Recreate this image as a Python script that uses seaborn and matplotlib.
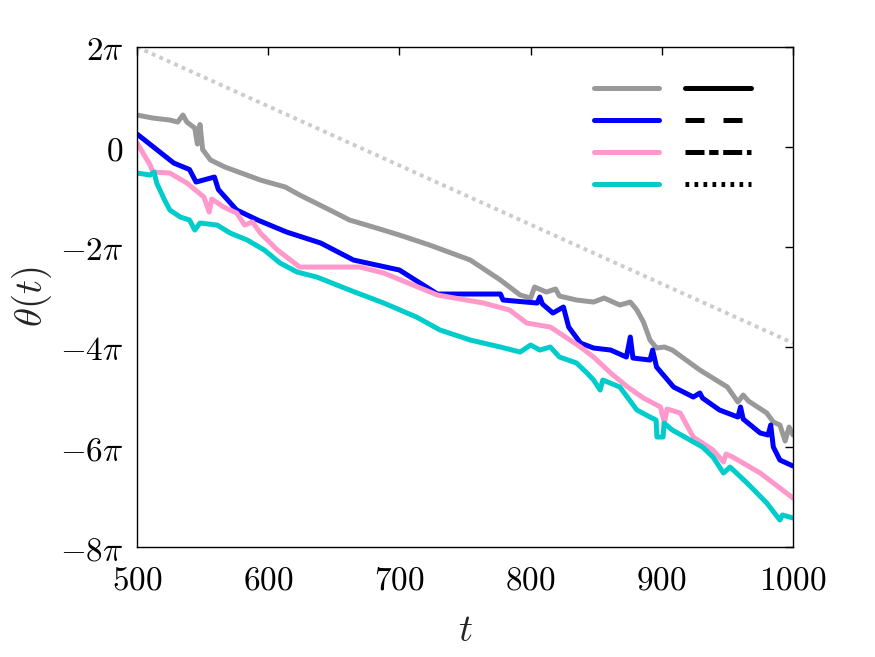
import numpy as np
import pandas as pd
import matplotlib
matplotlib.use("Agg")
import matplotlib.pyplot as plt
from matplotlib.lines import Line2D
import seaborn as sns

# theta values are stored in units of pi
gray_t = [500, 512, 525, 531, 535, 538, 544, 546, 548, 550, 556, 567, 594, 613, 624, 647, 662,
          680, 700, 723, 754, 777, 792, 800, 803, 812, 819, 822, 835, 848, 856, 868, 876, 881,
          886, 891, 896, 902, 908, 929, 950, 958, 962, 966, 980, 985, 990, 994, 997, 1000]
gray_th = [0.64, 0.58, 0.54, 0.50, 0.64, 0.50, 0.38, 0.06, 0.45, -0.05, -0.26, -0.40, -0.66,
           -0.80, -0.96, -1.26, -1.46, -1.60, -1.76, -1.96, -2.26, -2.66, -2.96, -3.02, -2.80,
           -2.90, -2.84, -2.98, -3.06, -3.10, -3.02, -3.16, -3.10, -3.26, -3.50, -3.86, -4.02,
           -4.00, -4.06, -4.46, -4.80, -5.10, -4.96, -5.08, -5.32, -5.50, -5.56, -5.88, -5.60, -5.76]

blue_t = [500, 528, 540, 545, 559, 562, 576, 592, 614, 640, 665, 700, 729, 777, 779, 805, 807,
          809, 817, 825, 829, 838, 848, 861, 873, 876, 878, 891, 893, 896, 909, 924, 929, 931,
          944, 958, 960, 962, 975, 981, 983, 985, 990, 1000]
blue_th = [0.26, -0.32, -0.45, -0.70, -0.60, -0.85, -1.26, -1.46, -1.70, -1.92, -2.26, -2.46,
           -2.94, -2.94, -3.06, -3.12, -3.00, -3.14, -3.32, -3.20, -3.60, -3.92, -4.02, -4.06,
           -4.20, -3.80, -4.22, -4.26, -4.06, -4.40, -4.80, -5.00, -4.92, -5.02, -5.26, -5.40,
           -5.20, -5.44, -5.72, -5.76, -5.56, -6.00, -6.26, -6.38]

pink_t = [500, 510, 512, 525, 538, 551, 555, 557, 566, 576, 582, 588, 594, 607, 620, 624, 670,
          688, 729, 764, 784, 797, 815, 822, 838, 848, 861, 874, 886, 899, 902, 904, 914, 924,
          939, 947, 949, 954, 975, 1000]
pink_th = [0.08, -0.36, -0.50, -0.52, -0.72, -1.00, -1.30, -1.04, -1.20, -1.32, -1.56, -1.50,
           -1.72, -2.06, -2.32, -2.40, -2.40, -2.52, -2.96, -3.12, -3.26, -3.52, -3.60, -3.72,
           -4.00, -4.20, -4.52, -4.80, -5.02, -5.20, -5.52, -5.24, -5.32, -5.80, -6.06, -6.30,
           -6.14, -6.20, -6.52, -7.02]

cyan_t = [500, 510, 513, 515, 521, 525, 533, 540, 544, 548, 561, 571, 584, 597, 609, 622, 637,
          662, 688, 713, 731, 754, 777, 792, 800, 807, 815, 822, 835, 843, 848, 853, 855, 868,
          881, 891, 895.6, 896.3, 901, 901.7, 908, 931, 939, 947, 952, 965, 980, 990, 992, 1000]
cyan_th = [-0.52, -0.56, -0.50, -0.72, -1.06, -1.26, -1.40, -1.46, -1.66, -1.52, -1.56, -1.72,
           -1.86, -2.06, -2.32, -2.50, -2.60, -2.86, -3.12, -3.40, -3.66, -3.86, -4.00, -4.10,
           -3.96, -4.06, -4.00, -4.20, -4.32, -4.52, -4.66, -4.86, -4.66, -4.80, -5.26, -5.40,
           -5.46, -5.80, -5.80, -5.52, -5.66, -6.00, -6.20, -6.52, -6.40, -6.72, -7.12, -7.46,
           -7.36, -7.42]

ref_t = [500, 1000]
ref_th = [2.0, -3.92]

series_names = ["gray", "blue", "pink", "cyan"]
series_colors = ["#999999", "#0000ff", "#ff99cc", "#00cccc"]
style_names = ["solid", "dashed", "dashdot", "dotted"]

x_ticks = [500, 600, 700, 800, 900, 1000]
y_ticks = [-8, -6, -4, -2, 0, 2]

df = pd.concat([
    pd.DataFrame({"t": gray_t, "theta": gray_th, "series": "gray"}),
    pd.DataFrame({"t": blue_t, "theta": blue_th, "series": "blue"}),
    pd.DataFrame({"t": pink_t, "theta": pink_th, "series": "pink"}),
    pd.DataFrame({"t": cyan_t, "theta": cyan_th, "series": "cyan"}),
], ignore_index=True)

sns.set_theme(style="white")
plt.rcParams["mathtext.fontset"] = "cm"

fig = plt.figure(figsize=(8.75, 6.57), dpi=100)
ax = fig.add_axes([0.1566, 0.1674, 0.7497, 0.761])

sns.lineplot(x=ref_t, y=ref_th, ax=ax, color="#cccccc", lw=2.8, linestyle=(0, (1, 1.1)))
sns.lineplot(data=df, x="t", y="theta", hue="series", palette=dict(zip(series_names, series_colors)),
             estimator=None, sort=False, lw=3.6, legend=False, ax=ax)

ax.set_xlim(500, 1000)
ax.set_ylim(-8, 2)
ax.set_xticks(x_ticks)
ax.set_xticklabels([f"${v}$" for v in x_ticks])
ax.set_yticks(y_ticks)
ax.set_yticklabels(["$0$" if v == 0 else f"${v}\\pi$" for v in y_ticks])
ax.tick_params(direction="in", length=6, width=1, top=True, right=True, labelsize=24,
               colors="black", pad=10)
ax.tick_params(axis="x", pad=12)
for s in ax.spines.values():
    s.set_color("black")
    s.set_linewidth(1)

ax.set_xlabel("$t$", fontsize=28, labelpad=10)
ax.set_ylabel("$\\theta(t)$", fontsize=28)

# legend: colored lines in one column, black line styles in the other
dash_map = {"solid": "-", "dashed": (0, (3.8, 3.8)), "dashdot": (0, (3.8, 0.94, 1.86, 0.94)),
            "dotted": (0, (0.74, 1.06))}
handles = [Line2D([], [], color=c, lw=3.6) for c in series_colors]
handles += [Line2D([], [], color="black", lw=3.6, linestyle=dash_map[s]) for s in style_names]
ax.legend(handles, [""] * 8, ncol=2, frameon=False, loc="upper right",
          bbox_to_anchor=(0.962, 0.97), handlelength=3.35, handletextpad=0, columnspacing=1.34,
          labelspacing=0.68, fontsize=14)

fig.savefig("out.png", dpi=100)
